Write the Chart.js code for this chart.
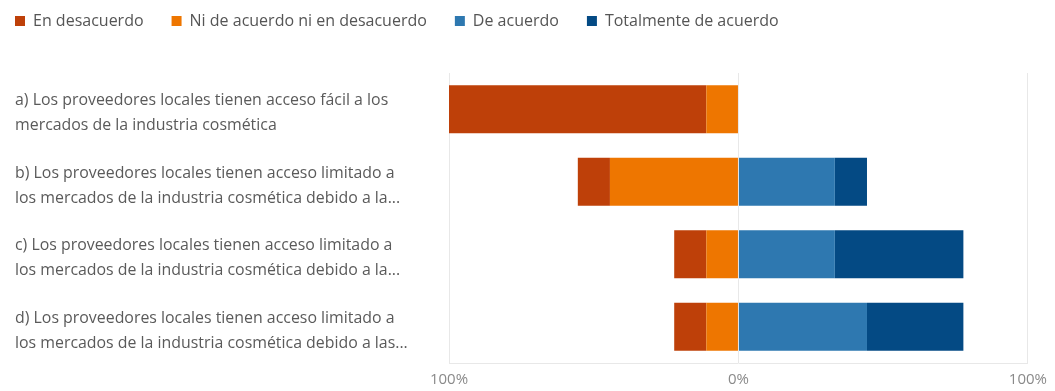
<!DOCTYPE html>
<html>
<head>
<meta http-equiv="content-type" content="text/html; charset=UTF-8">
<script src="https://cdn.jsdelivr.net/npm/chart.js@4/dist/chart.umd.min.js"></script>
<style>
  body { margin: 0; background: #ffffff; }
</style>
</head>
<body>
<canvas id="likert-chart" width="1055" height="391"></canvas>
<script>
// statements on the y axis, split in two lines each
var statements = [
  ['a) Los proveedores locales tienen acceso fácil a los', 'mercados de la industria cosmética'],
  ['b) Los proveedores locales tienen acceso limitado a', 'los mercados de la industria cosmética debido a la...'],
  ['c) Los proveedores locales tienen acceso limitado a', 'los mercados de la industria cosmética debido a la...'],
  ['d) Los proveedores locales tienen acceso limitado a', 'los mercados de la industria cosmética debido a las...']
];

// share of answers per statement (%)
var enDesacuerdo = [88.9, 11.1, 11.1, 11.1];
var niDeAcuerdo  = [11.1, 44.4, 11.1, 11.1];
var deAcuerdo    = [0, 33.3, 33.3, 44.4];
var totalmente   = [0, 11.1, 44.4, 33.3];

// x axis
var axisTicks  = [-100, 0, 100];
var tickLabels = ['100%', '0%', '100%'];

var textFont = 'Open Sans';

function negate(arr) {
  return arr.map(function (v) { return -v; });
}

// disagreeing answers go to the left of 0; the neutral one must sit next to 0,
// so it comes first in the stack and legendRank restores the legend order
var datasets = [
  { label: 'Ni de acuerdo ni en desacuerdo', data: negate(niDeAcuerdo), backgroundColor: '#EE7600', legendRank: 1 },
  { label: 'En desacuerdo', data: negate(enDesacuerdo), backgroundColor: '#BE4009', legendRank: 0 },
  { label: 'De acuerdo', data: deAcuerdo, backgroundColor: '#2E78B0', legendRank: 2 },
  { label: 'Totalmente de acuerdo', data: totalmente, backgroundColor: '#044A84', legendRank: 3 }
];

// legend: fixed height, and items start at the left edge of the labels
var legendPlacement = {
  id: 'legendPlacement',
  beforeInit: function (chart) {
    var fit = chart.legend.fit;
    chart.legend.fit = function () {
      fit.call(this);
      this.height = 73;
    };
  },
  afterLayout: function (chart) {
    var pad = chart.legend.options.labels.padding;
    chart.legend.left = 15 - pad;
    chart.legend.top = 13 - pad;
  }
};

var ctx = document.getElementById('likert-chart');

new Chart(ctx, {
  type: 'bar',
  data: {
    labels: statements,
    datasets: datasets
  },
  options: {
    responsive: false,
    animation: false,
    indexAxis: 'y',
    layout: { padding: { left: 15, right: 25, top: 0, bottom: 0 } },
    datasets: {
      bar: { categoryPercentage: 1, barPercentage: 0.66, borderWidth: 0 }
    },
    scales: {
      x: {
        stacked: true,
        min: -100,
        max: 100,
        afterBuildTicks: function (scale) {
          scale.ticks = axisTicks.map(function (v) { return { value: v }; });
        },
        afterFit: function (scale) { scale.height = 27; },
        grid: { color: '#e8e8e8', drawTicks: false },
        border: { display: true, color: '#e8e8e8' },
        ticks: {
          padding: 8,
          color: '#8a8a8a',
          font: { family: textFont, size: 15 },
          callback: function (value, index) { return tickLabels[index]; }
        }
      },
      y: {
        stacked: true,
        afterFit: function (scale) { scale.width = 434; },
        grid: { display: false },
        border: { display: false },
        ticks: {
          crossAlign: 'far',
          labelOffset: 4,
          color: '#5a5a5a',
          font: { family: textFont, size: 15.9, lineHeight: 1.57 }
        }
      }
    },
    plugins: {
      tooltip: { enabled: false },
      legend: {
        position: 'top',
        align: 'start',
        labels: {
          boxWidth: 10,
          boxHeight: 10,
          padding: 28,
          color: '#555555',
          font: { family: textFont, size: 16 },
          sort: function (a, b, data) {
            return data.datasets[a.datasetIndex].legendRank - data.datasets[b.datasetIndex].legendRank;
          }
        }
      }
    }
  },
  plugins: [legendPlacement]
});
</script>
</body>
</html>
